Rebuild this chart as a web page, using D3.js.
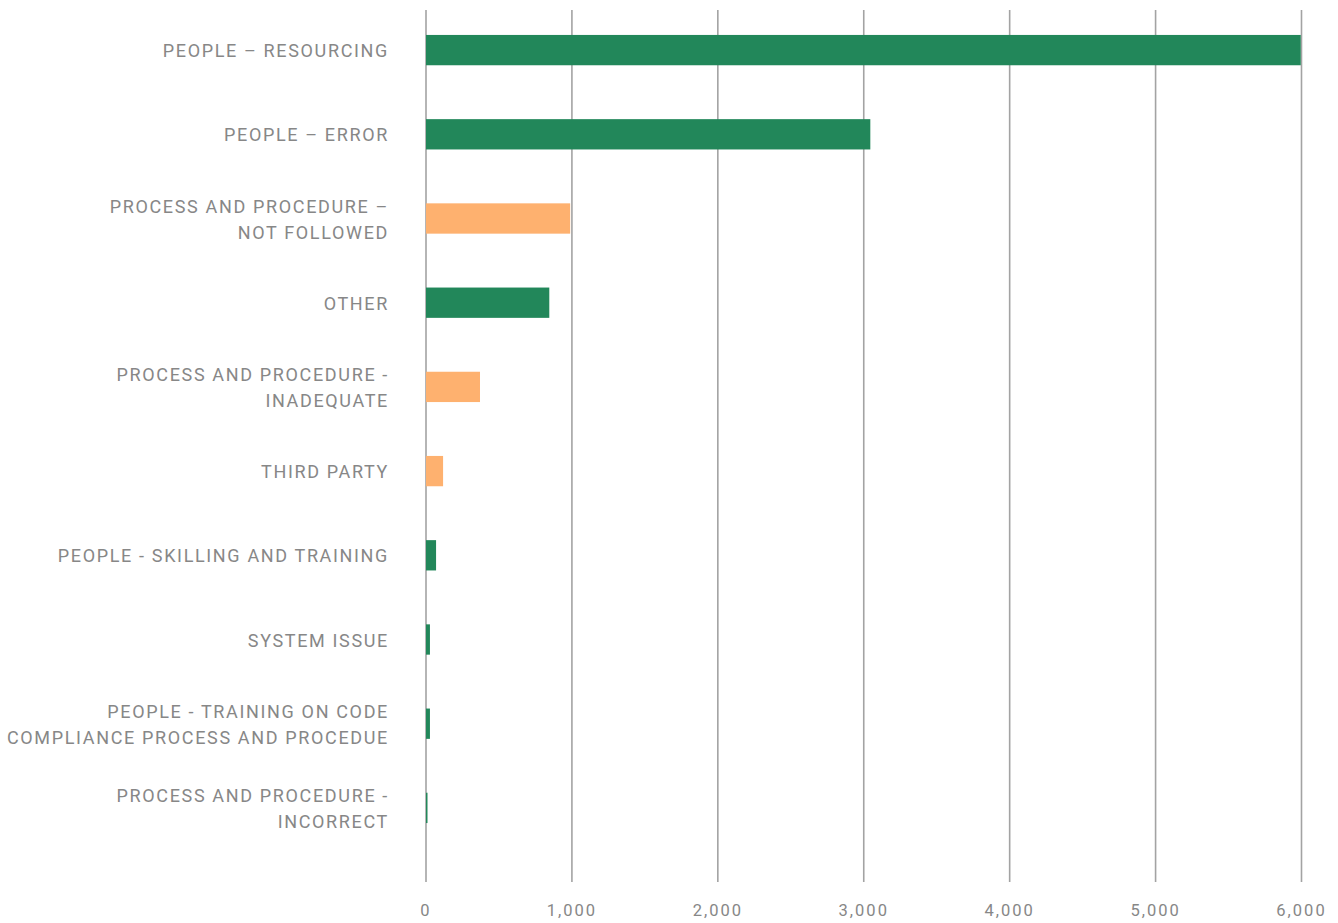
<!DOCTYPE html>
<html>
<head>
<meta charset="utf-8">
<script src="https://cdn.jsdelivr.net/npm/d3@7"></script>
<style>
  body { margin: 0; background: #fff; }
  svg text { font-family: Roboto, "Noto Sans", sans-serif; fill: #878787; }
</style>
</head>
<body>
<svg id="chart" width="1338" height="923"></svg>
<script>
// categories, top to bottom (each entry = label lines)
var categories = [
    ["PEOPLE \u2013 RESOURCING"],
    ["PEOPLE \u2013 ERROR"],
    ["PROCESS AND PROCEDURE \u2013", "NOT FOLLOWED"],
    ["OTHER"],
    ["PROCESS AND PROCEDURE -", "INADEQUATE"],
    ["THIRD PARTY"],
    ["PEOPLE - SKILLING AND TRAINING"],
    ["SYSTEM ISSUE"],
    ["PEOPLE - TRAINING ON CODE", "COMPLIANCE PROCESS AND PROCEDUE"],
    ["PROCESS AND PROCEDURE -", "INCORRECT"]
];
var values = [5995, 3045, 988, 845, 370, 117, 69, 27, 27, 8];
// which group each bar belongs to (people/other vs process/third party)
var groups = ["people", "people", "process", "people", "process", "process", "people", "people", "people", "process2"];
var tickValues = [0, 1000, 2000, 3000, 4000, 5000, 6000];

var svg = d3.select("#chart");

var x = d3.scaleLinear().domain([0, 6000]).range([426, 1301.5]);
var y = d3.scaleBand()
    .domain(d3.range(categories.length))
    .range([8, 850])
    .paddingInner(0.64)
    .paddingOuter(0.32);

var color = function (g) {
    if (g === "process") return "#feb16f";
    return "#22875a";
};

// vertical gridlines
svg.append("g")
    .selectAll("line")
    .data(tickValues)
    .enter()
    .append("line")
    .attr("x1", function (d) { return x(d); })
    .attr("x2", function (d) { return x(d); })
    .attr("y1", 10)
    .attr("y2", 882)
    .attr("stroke", "#a3a3a3")
    .attr("stroke-width", 1.6);

// bars
svg.append("g")
    .selectAll("rect")
    .data(values)
    .enter()
    .append("rect")
    .attr("x", x(0))
    .attr("y", function (d, i) { return y(i); })
    .attr("width", function (d) { return Math.max(1.5, x(d) - x(0)); })
    .attr("height", y.bandwidth())
    .attr("fill", function (d, i) { return color(groups[i]); });

// x tick labels
var fmt = d3.format(",");
svg.append("g")
    .selectAll("text")
    .data(tickValues)
    .enter()
    .append("text")
    .attr("x", function (d) { return x(d); })
    .attr("y", 916)
    .attr("text-anchor", "middle")
    .style("font-size", "16.5px")
    .style("letter-spacing", "2px")
    .text(function (d) { return fmt(d); });

// category labels
var lineH = 26;
var labels = svg.append("g")
    .selectAll("text")
    .data(categories)
    .enter()
    .append("text")
    .attr("text-anchor", "end")
    .style("font-size", "18px")
    .style("letter-spacing", "1.65px")
    .attr("transform", function (d, i) {
        var cy = y(i) + y.bandwidth() / 2;
        var top = cy - (d.length - 1) * lineH / 2;
        return "translate(389," + (top + 7) + ")";
    });

labels.selectAll("tspan")
    .data(function (d) { return d; })
    .enter()
    .append("tspan")
    .attr("x", 0)
    .attr("dy", function (d, i) { return i === 0 ? 0 : lineH; })
    .text(function (d) { return d; });
</script>
</body>
</html>
